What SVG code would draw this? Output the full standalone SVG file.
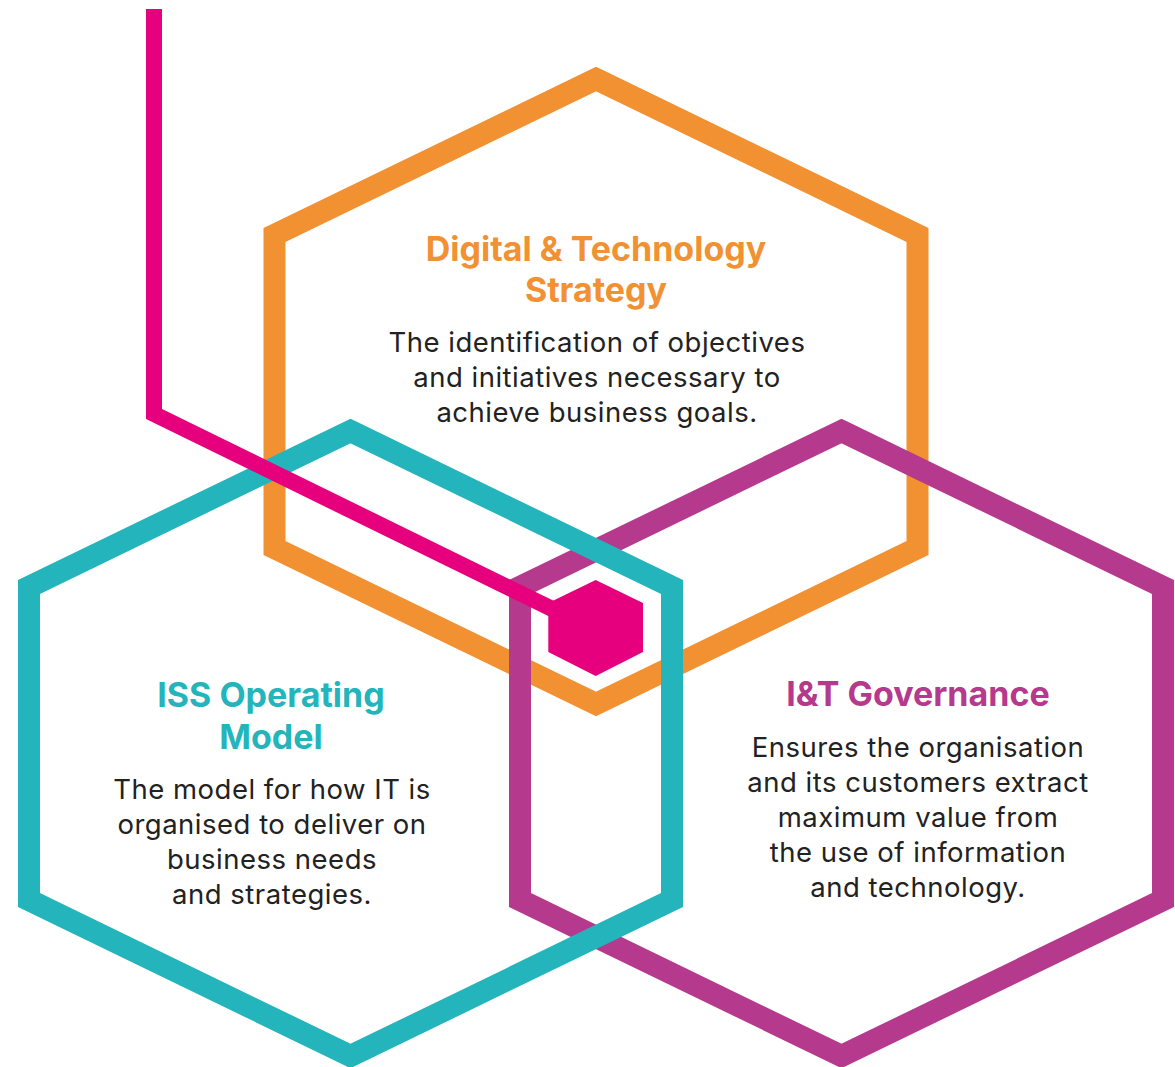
<svg xmlns="http://www.w3.org/2000/svg" width="1175" height="1067" viewBox="0 0 1175 1067">
<defs>
<style>
.hex{fill:none;stroke-width:22;stroke-linejoin:miter;stroke-miterlimit:4}
.h{font-family:Inter,"Noto Sans","Liberation Sans",sans-serif;font-weight:700;font-size:34px;text-anchor:middle}
.b{font-family:Inter,"Noto Sans","Liberation Sans",sans-serif;font-weight:400;font-size:27.5px;letter-spacing:0.5px;fill:#222;text-anchor:middle}
</style>
<polygon id="hexshape" points="0,-312.5 321.5,-156.5 321.5,156.5 0,312.5 -321.5,156.5 -321.5,-156.5"/>
</defs>
<rect width="1175" height="1067" fill="#fff"/>
<g id="node-strategy">
<use href="#hexshape" class="hex" stroke="#F29132" transform="translate(596,391.5)"/>
</g>
<g id="node-governance">
<use href="#hexshape" class="hex" stroke="#B5398C" transform="translate(841.5,743.5)"/>
</g>
<g id="node-operating">
<use href="#hexshape" class="hex" stroke="#24B5BC" transform="translate(350.5,743.5)"/>
</g>
<g id="connectors">
<polyline points="154,9 154,414 585,625" fill="none" stroke="#E6007E" stroke-width="16" stroke-linejoin="miter"/>
</g>
<g id="node-core">
<polygon points="595.7,580 643,603 643,652 595.7,676 548.3,652 548.3,603" fill="#E6007E"/>
</g>
<g id="text-strategy">
<text class="h" fill="#F29132" x="596" y="261">Digital &amp; Technology</text>
<text class="h" fill="#F29132" x="596" y="302">Strategy</text>
<text class="b" x="597" y="352">The identification of objectives</text>
<text class="b" x="597" y="387">and initiatives necessary to</text>
<text class="b" x="597" y="422">achieve business goals.</text>
</g>
<g id="text-operating">
<text class="h" fill="#24B5BC" x="271" y="707">ISS Operating</text>
<text class="h" fill="#24B5BC" x="271" y="749">Model</text>
<text class="b" x="272" y="799">The model for how IT is</text>
<text class="b" x="272" y="834">organised to deliver on</text>
<text class="b" x="272" y="869">business needs</text>
<text class="b" x="272" y="904">and strategies.</text>
</g>
<g id="text-governance">
<text class="h" fill="#B5398C" x="918" y="706">I&amp;T Governance</text>
<text class="b" x="918" y="757">Ensures the organisation</text>
<text class="b" x="918" y="792">and its customers extract</text>
<text class="b" x="918" y="827">maximum value from</text>
<text class="b" x="918" y="862">the use of information</text>
<text class="b" x="918" y="897">and technology.</text>
</g>
</svg>
